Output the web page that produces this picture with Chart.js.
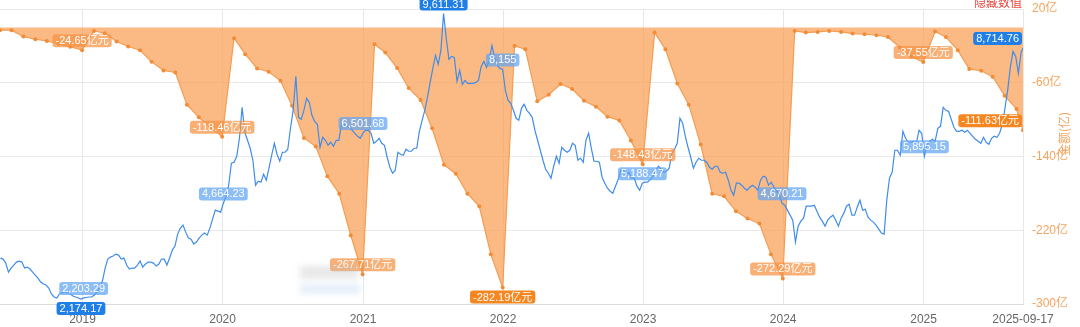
<!DOCTYPE html>
<html>
<head>
<meta charset="utf-8">
<script src="https://cdn.jsdelivr.net/npm/chart.js@4"></script>
<style>
  html, body { margin: 0; padding: 0; background: #fff; }
  #wrap { width: 1080px; height: 327px; position: relative; }
</style>
</head>
<body>
<div id="wrap"><canvas id="chart"></canvas></div>
<script>
// axis range
const DAY0 = '2018-05-31';
const DATE_END = '2025-09-17';

// x ticks
const tickDates = ['2019-01-01', '2020-01-01', '2021-01-01', '2022-01-01', '2023-01-01', '2024-01-01', '2025-01-01', '2025-09-17'];
const tickLabels = ['2019', '2020', '2021', '2022', '2023', '2024', '2025', '2025-09-17'];

// right axis ticks (亿)
const rightTicks = [20, -60, -140, -220, -300];

// index line, weekly closes from 2018-06-01, last one on 2025-09-17
const blueStart = '2018-06-01';
const blueValues = [
  3241, 3215, 3111, 2877, 2981, 3059, 3137, 3163, 3137, 2981,
  3007, 2955, 2877, 2799, 2721, 2617, 2565, 2539, 2461, 2305,
  2227, 2201, 2305, 2331, 2357, 2331, 2305, 2253, 2227, 2201,
  2174.17, 2203.29, 2215, 2227, 2227, 2279, 2357, 2487, 2643, 2981,
  3215, 3267, 3293, 3345, 3319, 3215, 3241, 3059, 2955, 2981,
  2981, 3059, 3163, 3007, 3085, 3137, 3137, 3111, 3033, 3085,
  3215, 3215, 3059, 3241, 3449, 3553, 3865, 4021, 4099, 3917,
  3761, 3735, 3605, 3657, 3761, 3839, 3891, 3839, 4021, 4255,
  4489, 4463, 4437, 4664.23, 4853, 5139, 5711, 5737, 5893, 6361,
  7167, 6517, 6309, 6101, 5789, 5139, 5243, 5217, 5425, 5269,
  5581, 5919, 6231, 5945, 5763, 5997, 5997, 6075, 6621, 7089,
  7973, 6907, 6855, 7089, 7401, 7297, 6959, 6803, 6725, 6127,
  6387, 6309, 6179, 6257, 6153, 6309, 6309, 6725, 6725, 6673,
  6621, 6569, 6491, 6413, 6361, 6501.68, 6569, 6569, 6491, 6231,
  6283, 6361, 6231, 6179, 5867, 5607, 5451, 5529, 5997, 5945,
  5919, 6075, 6023, 6023, 6101, 6101, 6543, 6829, 7089, 7427,
  7817, 8181, 8519, 8285, 8649, 9611.31, 8961, 8415, 8493, 8467,
  7843, 8129, 7765, 7869, 7791, 7791, 7791, 7817, 7869, 8233,
  8363, 8207, 8389, 8779, 8467, 8259, 8181, 8155, 7609, 7349,
  7271, 7089, 6881, 6829, 7141, 7245, 7089, 7011, 6907, 6569,
  6309, 6049, 5789, 5555, 5451, 5321, 5633, 5893, 5711, 6127,
  6049, 5997, 6049, 6231, 6179, 5789, 5841, 5737, 6309, 6491,
  6101, 5763, 5763, 5737, 5347, 5191, 5061, 4983, 4931, 5113,
  5295, 5529, 5529, 5399, 5477, 5321, 5321, 5113, 5009, 5188.47,
  5217, 5217, 5295, 5373, 5529, 5633, 5555, 5477, 5503, 5581,
  5971, 6075, 6231, 6881, 6751, 6413, 6127, 5867, 5581, 5737,
  5841, 5789, 5789, 5737, 5607, 5555, 5633, 5633, 5477, 5451,
  5477, 5269, 5009, 4879, 5191, 5191, 5139, 5061, 5009, 5087,
  5139, 5087, 5009, 5269, 5373, 5347, 5139, 5217, 5087, 4983,
  4879, 4670.21, 4619, 4489, 4359, 4229, 3657, 4073, 4203, 4281,
  4593, 4593, 4593, 4619, 4463, 4307, 4203, 4073, 4229, 4307,
  4359, 4229, 4073, 4281, 4411, 4593, 4645, 4359, 4359, 4567,
  4749, 4489, 4515, 4307, 4229, 4177, 4099, 3995, 3891, 3865,
  4749, 5321, 5477, 6049, 6049, 5919, 6543, 6361, 6257, 6257,
  6283, 6231, 6569, 6491, 5895.15, 6205, 6283, 6335, 6283, 6621,
  6673, 7167, 7089, 7063, 6855, 6647, 6543, 6543, 6569, 6517,
  6569, 6491, 6413, 6335, 6283, 6231, 6387, 6257, 6205, 6361,
  6413, 6387, 6491, 6725, 7141, 7609, 8207, 8623, 8493, 8051,
  8597, 8714.76
];

// cumulative amount within each year (亿元), month ends from 2018-05, last one on 2025-09-17
const orangeStartYear = 2018;
const orangeStartMonth = 5;
const orangeValues = [
  -3.0, -3.0, -9.9, -12.8, -14.6, -18.0, -21.0, -24.65,
  -3.8, -6.3, -15.3, -20.7, -24.7, -37.3, -46.7, -48.8, -83.8, -97.5, -108.4, -118.46,
  -11.7, -29.0, -44.5, -48.1, -57.8, -84.9, -119.8, -129.2, -161.3, -180.4, -225.4, -267.71,
  -18.2, -27.2, -44.1, -65.8, -78.7, -109.4, -149.0, -158.7, -180.4, -194.0, -245.9, -282.19,
  -20.0, -23.6, -80.2, -73.0, -61.4, -66.8, -79.5, -85.9, -96.8, -101.0, -122.7, -148.43,
  -5.6, -23.6, -60.7, -83.8, -127.0, -180.4, -183.2, -199.4, -207.3, -212.8, -245.9, -272.29,
  -3.8, -5.6, -4.9, -3.8, -4.9, -6.7, -7.4, -8.5, -10.3, -21.8, -31.9, -37.55,
  -4.5, -10.5, -24.7, -45.2, -47.0, -53.5, -74.0, -88.4, -111.63
];

const t0 = Date.parse(DAY0);
const dayOf = s => (Date.parse(s) - t0) / 864e5;
const endDay = dayOf(DATE_END);
const blueDay0 = dayOf(blueStart);

const blueData = blueValues.map((v, i) => ({ x: Math.min(blueDay0 + 7 * i, endDay), y: v }));
const orangeData = orangeValues.map((v, i) => {
  const last = i === orangeValues.length - 1;
  const x = last ? endDay : (Date.UTC(orangeStartYear, orangeStartMonth + i, 0) - t0) / 864e5;
  return { x: x, y: v };
});

const TAG_FONT = '11px "Liberation Sans", Arial, "Noto Sans CJK SC", sans-serif';
const AXIS_ORANGE = '#f5a35c';
const BLUE_DARK = '#1f7fe6';
const BLUE_LIGHT = 'rgba(96,164,242,0.72)';
const ORANGE_DARK = '#f6861f';
const ORANGE_LIGHT = 'rgba(246,146,66,0.72)';

function drawTag(ctx, area, x, y, text, bg, place) {
  const w = ctx.measureText(text).width + 6;
  const h = 13;
  let left = x - w / 2;
  if (place === 'last') left = area.right - 1 - w;
  const top = place === 'below' ? y + 3 : y - 3 - h;
  ctx.fillStyle = bg;
  ctx.beginPath();
  ctx.roundRect(left, top, w, h, 3);
  ctx.fill();
  ctx.fillStyle = '#fff';
  ctx.fillText(text, left + w / 2, top + h / 2 + 0.5);
}

const fmtBlue = v => v.toLocaleString('en-US', { maximumFractionDigits: 2 });
const fmtOrange = v => v.toFixed(2) + '亿元';

const tagPlugin = {
  id: 'tags',
  afterDatasetsDraw(chart) {
    const ctx = chart.ctx;
    const area = chart.chartArea;
    ctx.save();
    ctx.font = TAG_FONT;
    ctx.textAlign = 'center';
    ctx.textBaseline = 'middle';

    // orange: year ends, min, last
    const om = chart.getDatasetMeta(1).data;
    let oMin = 0;
    orangeValues.forEach((v, i) => { if (v < orangeValues[oMin]) oMin = i; });
    const oLast = orangeValues.length - 1;
    orangeData.forEach((p, i) => {
      const isYearEnd = i !== oLast && new Date(t0 + p.x * 864e5).getUTCMonth() === 11;
      if (!isYearEnd && i !== oLast) return;
      const dark = i === oMin || i === oLast;
      const place = i === oLast ? 'last' : (i === oMin ? 'below' : 'above');
      drawTag(ctx, area, om[i].x, om[i].y, fmtOrange(orangeValues[i]), dark ? ORANGE_DARK : ORANGE_LIGHT, place);
    });

    // blue: first week of each year, min, max, last
    const bm = chart.getDatasetMeta(0).data;
    tickDates.slice(0, 7).forEach(d => {
      const dd = dayOf(d);
      let best = 0;
      blueData.forEach((p, i) => { if (Math.abs(p.x - dd) < Math.abs(blueData[best].x - dd)) best = i; });
      drawTag(ctx, area, bm[best].x, bm[best].y, fmtBlue(blueValues[best]), BLUE_LIGHT, 'above');
    });
    let bMin = 0, bMax = 0;
    blueValues.forEach((v, i) => {
      if (v < blueValues[bMin]) bMin = i;
      if (v > blueValues[bMax]) bMax = i;
    });
    const bLast = blueValues.length - 1;
    drawTag(ctx, area, bm[bMin].x, bm[bMin].y, fmtBlue(blueValues[bMin]), BLUE_DARK, 'below');
    drawTag(ctx, area, bm[bMax].x, bm[bMax].y, fmtBlue(blueValues[bMax]), BLUE_DARK, 'above');
    drawTag(ctx, area, bm[bLast].x, bm[bLast].y, fmtBlue(blueValues[bLast]), BLUE_DARK, 'last');
    ctx.restore();
  },
  afterDraw(chart) {
    const ctx = chart.ctx;
    const area = chart.chartArea;
    const y1 = chart.scales.y1;
    ctx.save();
    // right axis labels, drawn here so they do not push the plot area down
    ctx.font = '12px "Liberation Sans", Arial, "Noto Sans CJK SC", sans-serif';
    ctx.fillStyle = AXIS_ORANGE;
    ctx.textAlign = 'left';
    ctx.textBaseline = 'middle';
    rightTicks.forEach(v => ctx.fillText(v + '亿', area.right + 9, y1.getPixelForValue(v)));
    // hide-values switch at the top right
    ctx.font = '12px "Noto Sans CJK SC", sans-serif';
    ctx.fillStyle = '#e8453c';
    ctx.textAlign = 'right';
    ctx.textBaseline = 'bottom';
    ctx.fillText('隐藏数值', area.right - 1, 8);
    // right axis name
    ctx.fillStyle = AXIS_ORANGE;
    ctx.textAlign = 'center';
    ctx.textBaseline = 'middle';
    ctx.translate(1064, 134);
    ctx.rotate(-Math.PI / 2);
    ctx.fillText('金额(亿)', 0, 0);
    ctx.restore();
    // blurred watermark
    ctx.save();
    ctx.filter = 'blur(3px)';
    ctx.fillStyle = 'rgba(190,190,190,0.35)';
    ctx.fillRect(300, 266, 58, 13);
    ctx.fillStyle = 'rgba(190,215,242,0.4)';
    ctx.fillRect(300, 284, 60, 10);
    ctx.restore();
  }
};

new Chart(document.getElementById('chart'), {
  type: 'line',
  data: {
    datasets: [
      {
        label: '指数',
        data: blueData,
        yAxisID: 'y',
        borderColor: '#3f8ceb',
        borderWidth: 1.2,
        pointRadius: 0,
        tension: 0,
        fill: false,
        order: 0
      },
      {
        label: '金额',
        data: orangeData,
        yAxisID: 'y1',
        borderColor: '#f59d52',
        borderWidth: 1.2,
        backgroundColor: 'rgba(250,160,85,0.72)',
        fill: 'origin',
        pointRadius: 2,
        pointBorderWidth: 0,
        pointBackgroundColor: '#f28c36',
        tension: 0,
        order: 1
      }
    ]
  },
  options: {
    responsive: true,
    maintainAspectRatio: false,
    animation: false,
    layout: { autoPadding: false, padding: { top: 9, left: 0, right: 0, bottom: 0 } },
    plugins: { legend: { display: false }, tooltip: { enabled: false } },
    scales: {
      x: {
        type: 'linear',
        min: 0,
        max: endDay,
        afterBuildTicks: s => { s.ticks = tickDates.map(d => ({ value: dayOf(d) })); },
        afterFit: s => { s.height = 23; s.paddingLeft = 0; s.paddingRight = 0; },
        ticks: {
          autoSkip: false,
          maxRotation: 0,
          color: '#666',
          padding: 8,
          font: { size: 12, family: '"Liberation Sans", Arial, sans-serif' },
          callback: (v, i) => tickLabels[i]
        },
        grid: { color: '#e8e8e8', drawTicks: false },
        border: { color: '#dcdcdc' }
      },
      y: {
        display: false,
        min: 2045,
        max: 9728
      },
      y1: {
        position: 'right',
        min: -300,
        max: 20,
        afterBuildTicks: s => { s.ticks = rightTicks.map(v => ({ value: v })); },
        afterFit: s => { s.width = 57; },
        ticks: { display: false },
        grid: { color: '#e8e8e8', drawTicks: false },
        border: { display: false }
      }
    }
  },
  plugins: [tagPlugin]
});
</script>
</body>
</html>
